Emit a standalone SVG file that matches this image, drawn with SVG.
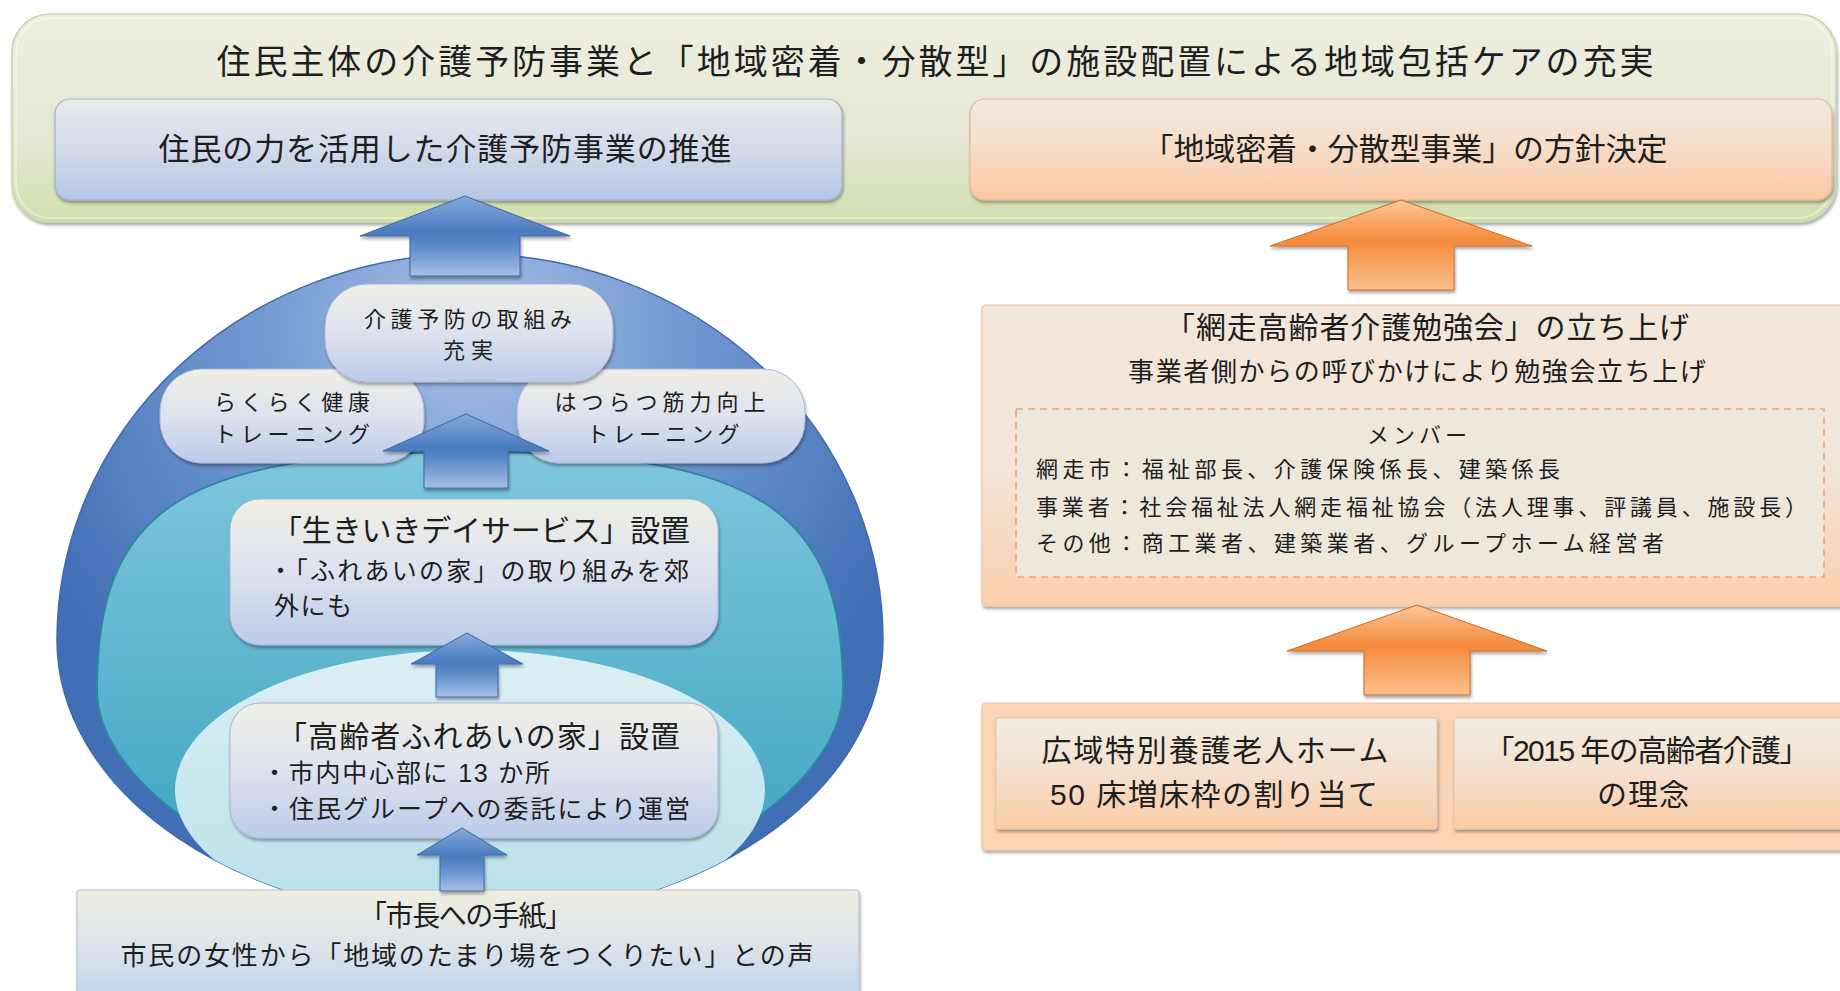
<svg xmlns="http://www.w3.org/2000/svg" width="1840" height="991" viewBox="0 0 1840 991">
<defs>
<style>
text{font-family:"Liberation Sans","Noto Sans CJK JP",sans-serif;fill:#1e1e1e;dominant-baseline:central}
.c{text-anchor:middle}
.s{text-anchor:start}
.sh{filter:url(#sh)}
</style>
<filter id="sh" x="-5%" y="-5%" width="110%" height="125%"><feDropShadow dx="1" dy="2.5" stdDeviation="1.6" flood-color="#000" flood-opacity="0.35"/></filter>
<clipPath id="egg"><path d="M57,640 A413,386 0 0 1 883,640 A413,280 0 0 1 57,640 Z"/></clipPath>
<linearGradient id="gBanner" x1="0" y1="0" x2="0" y2="1"><stop offset="0" stop-color="#efeee3"/><stop offset="0.6" stop-color="#e5e8d3"/><stop offset="1" stop-color="#d1dfae"/></linearGradient>
<linearGradient id="gBlueBox" x1="0" y1="0" x2="0" y2="1"><stop offset="0" stop-color="#e9eaea"/><stop offset="0.5" stop-color="#d3daea"/><stop offset="1" stop-color="#b5c6e6"/></linearGradient>
<linearGradient id="gOrBox" x1="0" y1="0" x2="0" y2="1"><stop offset="0" stop-color="#f4e9df"/><stop offset="0.5" stop-color="#f6dcc8"/><stop offset="1" stop-color="#fbc8a2"/></linearGradient>
<linearGradient id="gInner" x1="0" y1="0" x2="0" y2="1"><stop offset="0" stop-color="#f0efe6"/><stop offset="0.5" stop-color="#dde2ee"/><stop offset="1" stop-color="#bccbea"/></linearGradient>
<linearGradient id="gLetter" x1="0" y1="0" x2="0" y2="1"><stop offset="0" stop-color="#efeee0"/><stop offset="0.5" stop-color="#dde4ea"/><stop offset="1" stop-color="#bfd4ef"/></linearGradient>
<linearGradient id="gPeach" x1="0" y1="0" x2="0" y2="1"><stop offset="0" stop-color="#f2e7dc"/><stop offset="0.55" stop-color="#f3e4d6"/><stop offset="1" stop-color="#fbcfad"/></linearGradient>
<linearGradient id="gPeachBox" x1="0" y1="0" x2="0" y2="1"><stop offset="0" stop-color="#f1ece3"/><stop offset="0.5" stop-color="#f4dfcd"/><stop offset="1" stop-color="#fbcca6"/></linearGradient>
<radialGradient id="gOuter" gradientUnits="userSpaceOnUse" cx="470" cy="330" r="480"><stop offset="0" stop-color="#a6bfe6"/><stop offset="0.45" stop-color="#7399d2"/><stop offset="1" stop-color="#416fb6"/></radialGradient>
<linearGradient id="gTeal" gradientUnits="userSpaceOnUse" x1="0" y1="450" x2="0" y2="900"><stop offset="0" stop-color="#7fc7dc"/><stop offset="1" stop-color="#3aa2c0"/></linearGradient>
<linearGradient id="gLight" x1="0" y1="0" x2="0" y2="1"><stop offset="0" stop-color="#dcf0f4"/><stop offset="1" stop-color="#b6dfea"/></linearGradient>
<linearGradient id="gBlueArrow" x1="0" y1="0" x2="0" y2="1"><stop offset="0" stop-color="#86a9dc"/><stop offset="0.45" stop-color="#4a7cc0"/><stop offset="0.6" stop-color="#5887c6"/><stop offset="1" stop-color="#a6c0e6"/></linearGradient>
<linearGradient id="gOrArrow" x1="0" y1="0" x2="0" y2="1"><stop offset="0" stop-color="#fcc79a"/><stop offset="0.45" stop-color="#f58a3a"/><stop offset="0.6" stop-color="#f79a52"/><stop offset="1" stop-color="#fbc08c"/></linearGradient>
</defs>
<rect width="1840" height="991" fill="#ffffff"/>

<g id="banner">
<rect class="sh" x="12" y="14" width="1824" height="208" rx="38" fill="url(#gBanner)" stroke="#cbd5ae" stroke-width="1.5"/>
<rect x="16" y="18" width="1816" height="200" rx="35" fill="none" stroke="#ffffff" stroke-opacity="0.5" stroke-width="1.5"/>
<text class="c" x="935" y="62" font-size="34" textLength="1437">住民主体の介護予防事業と「地域密着・分散型」の施設配置による地域包括ケアの充実</text>
</g>

<g id="node-left-top">
<rect class="sh" x="55" y="99" width="787" height="101" rx="15" fill="url(#gBlueBox)" stroke="#a3b2cc" stroke-width="1.2"/>
<text class="c" x="445" y="149" font-size="31" textLength="573">住民の力を活用した介護予防事業の推進</text>
</g>

<g id="node-right-top">
<rect class="sh" x="970" y="99" width="862" height="101" rx="15" fill="url(#gOrBox)" stroke="#e3b99a" stroke-width="1.2"/>
<text class="c" x="1405" y="149" font-size="31" textLength="525">「地域密着・分散型事業」の方針決定</text>
</g>

<g id="circle-background">
<path d="M57,640 A413,386 0 0 1 883,640 A413,280 0 0 1 57,640 Z" fill="url(#gOuter)" stroke="#3f68ad" stroke-width="1.5"/>
<g clip-path="url(#egg)">
<path d="M470,452 C760,452 843,510 843,690 C843,800 640,910 470,910 C300,910 97,800 97,690 C97,510 180,452 470,452 Z" fill="url(#gTeal)" stroke="#2f86a3" stroke-width="2"/>
<ellipse cx="470" cy="790" rx="295" ry="140" fill="url(#gLight)"/>
</g>
</g>

<g id="node-rakuraku">
<rect class="sh" x="160" y="369" width="264" height="94" rx="42" fill="url(#gInner)" stroke="#aab8d6" stroke-width="1"/>
<text class="c" x="292" y="402" font-size="22" textLength="156">らくらく健康</text>
<text class="c" x="292" y="434" font-size="22" textLength="156">トレーニング</text>
</g>

<g id="node-hatsuratsu">
<rect class="sh" x="517" y="369" width="288" height="94" rx="42" fill="url(#gInner)" stroke="#aab8d6" stroke-width="1"/>
<text class="c" x="660" y="402" font-size="22" textLength="211">はつらつ筋力向上</text>
<text class="c" x="663" y="434" font-size="22" textLength="153">トレーニング</text>
</g>

<g id="node-kaigo">
<rect class="sh" x="325" y="284" width="288" height="98" rx="42" fill="url(#gInner)" stroke="#aab8d6" stroke-width="1"/>
<text class="c" x="468" y="319" font-size="22" textLength="208">介護予防の取組み</text>
<text class="c" x="468" y="350" font-size="22" textLength="50">充実</text>
</g>

<g id="node-ikiiki">
<rect class="sh" x="230" y="499" width="488" height="146" rx="30" fill="url(#gInner)" stroke="#aab8d6" stroke-width="1"/>
<text class="s" x="272" y="530" font-size="30" textLength="418">「生きいきデイサービス」設置</text>
<text class="s" x="268" y="571" font-size="25" textLength="421">・「ふれあいの家」の取り組みを郊</text>
<text class="s" x="274" y="606" font-size="25" textLength="78">外にも</text>
</g>

<g id="node-fureai">
<rect class="sh" x="230" y="703" width="488" height="135" rx="30" fill="url(#gInner)" stroke="#aab8d6" stroke-width="1"/>
<text class="s" x="277" y="736" font-size="30" textLength="403">「高齢者ふれあいの家」設置</text>
<text class="s" x="262" y="773" font-size="25" textLength="288">・市内中心部に 13 か所</text>
<text class="s" x="262" y="809" font-size="25" textLength="428">・住民グループへの委託により運営</text>
</g>

<g id="node-letter">
<rect class="sh" x="77" y="890" width="782" height="110" rx="3" fill="url(#gLetter)" stroke="#b9c3d4" stroke-width="1.2"/>
<text class="c" x="466" y="916" font-size="28" textLength="214">「市長への手紙」</text>
<text class="c" x="467" y="956" font-size="26" textLength="693">市民の女性から「地域のたまり場をつくりたい」との声</text>
</g>

<g id="node-benkyokai">
<rect class="sh" x="982" y="305" width="870" height="301" rx="4" fill="url(#gPeach)" stroke="#efc4a4" stroke-width="1.2"/>
<text class="c" x="1427" y="327" font-size="30" textLength="524">「網走高齢者介護勉強会」の立ち上げ</text>
<text class="c" x="1417" y="372" font-size="26" textLength="578">事業者側からの呼びかけにより勉強会立ち上げ</text>
<rect x="1016" y="409" width="808" height="168" fill="#eee7dc" stroke="#eaa677" stroke-width="1.6" stroke-dasharray="7 5"/>
<text class="c" x="1417" y="435" font-size="22" textLength="100">メンバー</text>
<text class="s" x="1036" y="469" font-size="22" textLength="524">網走市：福祉部長、介護保険係長、建築係長</text>
<text class="s" x="1036" y="507" font-size="22" textLength="771">事業者：社会福祉法人網走福祉協会（法人理事、評議員、施設長）</text>
<text class="s" x="1036" y="543" font-size="22" textLength="628">その他：商工業者、建築業者、グループホーム経営者</text>
</g>

<g id="node-background-factors">
<rect class="sh" x="982" y="703" width="870" height="147" rx="4" fill="#fbd5b6" stroke="#efc4a4" stroke-width="1.2"/>
<g id="node-tokuyo">
<rect class="sh" x="996" y="718" width="441" height="111" rx="2" fill="url(#gPeachBox)" stroke="#e9c3a6" stroke-width="1"/>
<text class="c" x="1215" y="750" font-size="30" textLength="347">広域特別養護老人ホーム</text>
<text class="c" x="1214" y="794" font-size="30" textLength="328">50 床増床枠の割り当て</text>
</g>
<g id="node-2015">
<rect class="sh" x="1454" y="718" width="392" height="111" rx="2" fill="url(#gPeachBox)" stroke="#e9c3a6" stroke-width="1"/>
<text class="c" x="1647" y="750" font-size="30" textLength="325">「2015 年の高齢者介護」</text>
<text class="c" x="1643" y="794" font-size="30" textLength="92">の理念</text>
</g>
</g>

<g id="connectors">
<path class="sh" d="M465,196 L570,236 L520,236 L520,276 L410,276 L410,236 L360,236 Z" fill="url(#gBlueArrow)" stroke="#3d69a8" stroke-width="1"/>
<path class="sh" d="M466,414 L549,451 L508,451 L508,488 L424,488 L424,451 L383,451 Z" fill="url(#gBlueArrow)" stroke="#3d69a8" stroke-width="1"/>
<path class="sh" d="M467,633 L523,664 L498,664 L498,697 L436,697 L436,664 L411,664 Z" fill="url(#gBlueArrow)" stroke="#3d69a8" stroke-width="1"/>
<path class="sh" d="M462,828 L507,855 L484,855 L484,891 L440,891 L440,855 L417,855 Z" fill="url(#gBlueArrow)" stroke="#3d69a8" stroke-width="1"/>
<path class="sh" d="M1401,200 L1532,246 L1454,246 L1454,290 L1348,290 L1348,246 L1270,246 Z" fill="url(#gOrArrow)" stroke="#d06a22" stroke-width="1"/>
<path class="sh" d="M1417,605 L1547,651 L1470,651 L1470,695 L1364,695 L1364,651 L1287,651 Z" fill="url(#gOrArrow)" stroke="#d06a22" stroke-width="1"/>
</g>
</svg>
